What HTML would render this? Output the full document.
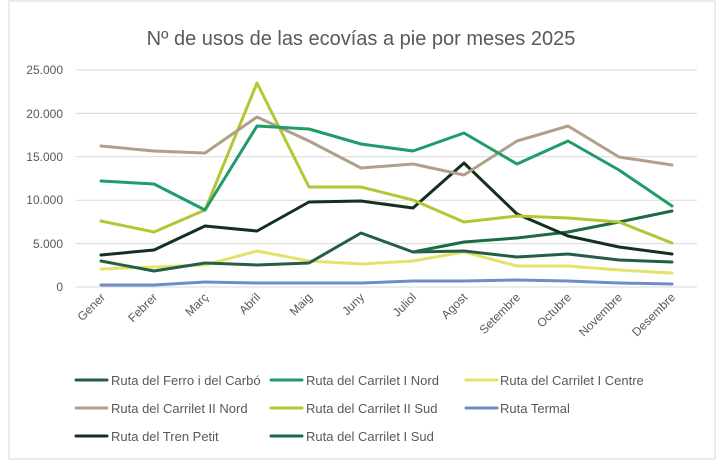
<!DOCTYPE html>
<html><head><meta charset="utf-8"><style>
body{margin:0;background:#fff}
svg{display:block;font-family:"Liberation Sans",sans-serif}
</style></head><body>
<svg width="723" height="465" viewBox="0 0 723 465">
<rect x="9" y="1" width="706" height="458" fill="#fff" stroke="#d9d9d9"/>
<text x="361" y="45" font-size="20" fill="#595959" text-anchor="middle">Nº de usos de las ecovías a pie por meses 2025</text>
<g stroke="#d9d9d9" stroke-width="1">
<line x1="76" x2="697" y1="70" y2="70"/><line x1="76" x2="697" y1="113.4" y2="113.4"/><line x1="76" x2="697" y1="156.8" y2="156.8"/><line x1="76" x2="697" y1="200.2" y2="200.2"/><line x1="76" x2="697" y1="243.6" y2="243.6"/><line x1="76" x2="697" y1="287" y2="287"/>
</g>
<g font-size="12" fill="#595959" text-anchor="end">
<text x="63" y="74">25.000</text><text x="63" y="118">20.000</text><text x="63" y="161">15.000</text><text x="63" y="204">10.000</text><text x="63" y="248">5.000</text><text x="63" y="291">0</text>
</g>
<g font-size="12" fill="#595959" text-anchor="end">
<text transform="translate(106,298) rotate(-45)">Gener</text>
<text transform="translate(158,298) rotate(-45)">Febrer</text>
<text transform="translate(209,298) rotate(-45)">Març</text>
<text transform="translate(261,298) rotate(-45)">Abril</text>
<text transform="translate(313,298) rotate(-45)">Maig</text>
<text transform="translate(365,298) rotate(-45)">Juny</text>
<text transform="translate(417,298) rotate(-45)">Juliol</text>
<text transform="translate(468,298) rotate(-45)">Agost</text>
<text transform="translate(521,298) rotate(-45)">Setembre</text>
<text transform="translate(572,298) rotate(-45)">Octubre</text>
<text transform="translate(623,298) rotate(-45)">Novembre</text>
<text transform="translate(676,298) rotate(-45)">Desembre</text>
</g>
<g fill="none" stroke-width="3" stroke-linejoin="round" stroke-linecap="round">
<polyline stroke="#6e8cc8" points="101,285 154,285 205,282 257,283 309,283 361,283 413,281 464,281 517,280 568,281 619,283 672,284"/>
<polyline stroke="#e3e36a" points="101,269 154,267 205,265 257,251 309,261 361,264 413,261 464,252 517,266 568,266 619,270 672,273"/>
<polyline stroke="#245e48" points="101,261 154,271 205,263 257,265 309,263 361,233 413,252 464,251 517,257 568,254 619,260 672,262"/>
<polyline stroke="#1d6b45" points="413,252 464,242 517,238 568,232 619,222 672,211"/>
<polyline stroke="#14301f" points="101,255 154,250 205,226 257,231 309,202 361,201 413,208 464,163 517,214 568,236 619,247 672,254"/>
<polyline stroke="#b5c634" points="101,221 154,232 205,210 257,83 309,187 361,187 413,200 464,222 517,216 568,218 619,222 672,243"/>
<polyline stroke="#b0a08a" points="101,146 154,151 205,153 257,117 309,141 361,168 413,164 464,175 517,141 568,126 619,157 672,165"/>
<polyline stroke="#1f9c67" points="101,181 154,184 205,210 257,126 309,129 361,144 413,151 464,133 517,164 568,141 619,170 672,206"/>
</g>
<g stroke-width="3" stroke-linecap="round">
<line x1="76" x2="107" y1="380" y2="380" stroke="#245e48"/>
<line x1="271" x2="302" y1="380" y2="380" stroke="#1f9c67"/>
<line x1="466" x2="497" y1="380" y2="380" stroke="#e3e36a"/>
<line x1="76" x2="107" y1="408" y2="408" stroke="#b0a08a"/>
<line x1="271" x2="302" y1="408" y2="408" stroke="#b5c634"/>
<line x1="466" x2="497" y1="408" y2="408" stroke="#6e8cc8"/>
<line x1="76" x2="107" y1="436" y2="436" stroke="#14301f"/>
<line x1="271" x2="302" y1="436" y2="436" stroke="#1d6b45"/>
</g>
<g font-size="13" fill="#595959">
<text x="111" y="385">Ruta del Ferro i del Carbó</text>
<text x="306" y="385">Ruta del Carrilet I Nord</text>
<text x="500" y="385">Ruta del Carrilet I Centre</text>
<text x="111" y="413">Ruta del Carrilet II Nord</text>
<text x="306" y="413">Ruta del Carrilet II Sud</text>
<text x="500" y="413">Ruta Termal</text>
<text x="111" y="441">Ruta del Tren Petit</text>
<text x="306" y="441">Ruta del Carrilet I Sud</text>
</g>
</svg>
</body></html>
